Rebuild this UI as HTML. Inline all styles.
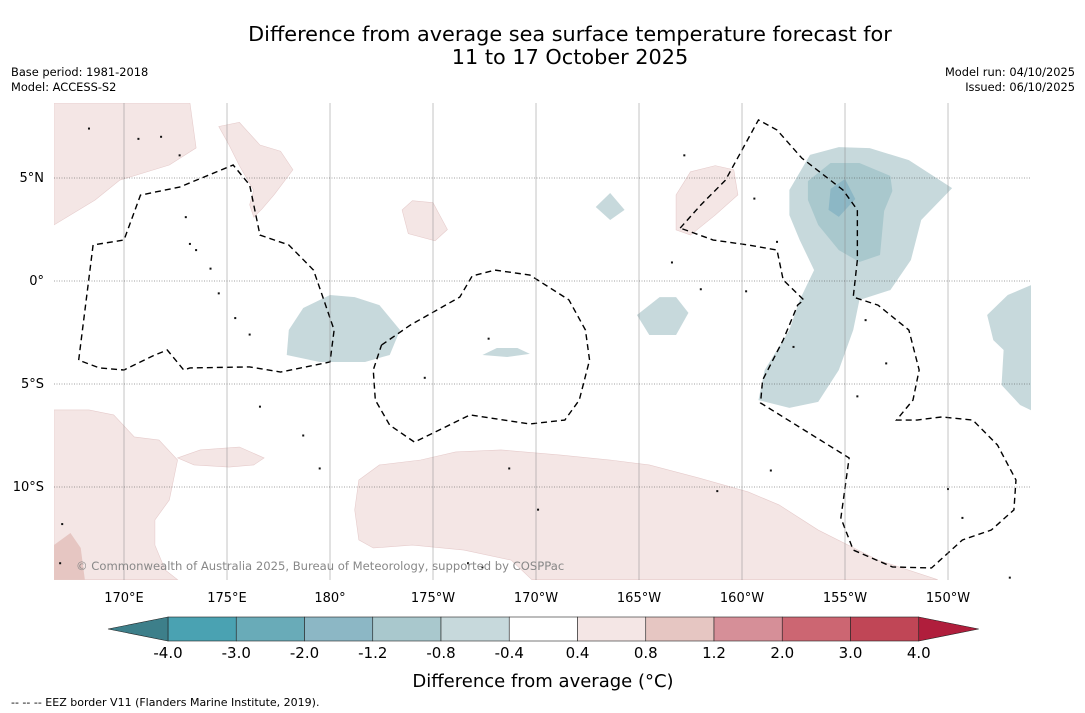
<!DOCTYPE html>
<html><head><meta charset="utf-8">
<style>
body{margin:0;width:1085px;height:713px;background:#fff;overflow:hidden;font-family:"Liberation Sans","DejaVu Sans",sans-serif;}
svg{position:absolute;left:0;top:0}
</style></head>
<body>
<svg id="chart" width="1085" height="713" xmlns="http://www.w3.org/2000/svg" font-family="DejaVu Sans, Liberation Sans, sans-serif">
<text x="570" y="41" font-size="20.8" text-anchor="middle">Difference from average sea surface temperature forecast for</text>
<text x="570" y="64" font-size="20.8" text-anchor="middle">11 to 17 October 2025</text>
<text x="11" y="76" font-size="11.4">Base period: 1981-2018</text>
<text x="11" y="91" font-size="11.4">Model: ACCESS-S2</text>
<text x="1075" y="76" font-size="11.4" text-anchor="end">Model run: 04/10/2025</text>
<text x="1075" y="91" font-size="11.4" text-anchor="end">Issued: 06/10/2025</text>
<clipPath id="mc"><rect x="54" y="103" width="977" height="477"/></clipPath>
<g id="map" clip-path="url(#mc)"></g>
<g id="grid"></g>
<g id="axes"></g>
<text x="76" y="570" font-size="11.6" fill="#888">© Commonwealth of Australia 2025, Bureau of Meteorology, supported by COSPPac</text>
<g id="cbar"></g>
<text x="543" y="687" font-size="18" text-anchor="middle">Difference from average (°C)</text>
<text x="11" y="706" font-size="11">--  --  -- EEZ border V11 (Flanders Marine Institute, 2019).</text>
</svg>
<script>
const NS="http://www.w3.org/2000/svg";
const lonTicks=[170,175,180,185,190,195,200,205,210];
const lonLabels=["170°E","175°E","180°","175°W","170°W","165°W","160°W","155°W","150°W"];
const latTicks=[5,0,-5,-10];
const latLabels=["5°N","0°","5°S","10°S"];
const levels=["-4.0","-3.0","-2.0","-1.2","-0.8","-0.4","0.4","0.8","1.2","2.0","3.0","4.0"];
const levelColors=["#4aa2b2","#69abb8","#8cb7c5","#a9c8cd","#c7d9dc","#ffffff","#f4e6e5","#e6c6c2","#d68f98","#cc6672","#c04656"];
const underColor="#3d7f8a", overColor="#b01e3c";
const regionLevels=[6,6,6,4,6,4,3,2,4,4,4,4,6,6,6,7];
const regionPolys=[
[[166.6,8.64],[173.2,8.64],[173.5,6.46],[172.2,5.63],[169.8,4.9],[168.6,3.93],[166.6,2.72]],
[[174.6,7.5],[175.6,7.7],[176.6,6.6],[177.6,6.3],[178.2,5.4],[177.3,4.2],[176.7,3.5],[176.3,3.1],[176.1,3.7],[176.3,4.4],[175.6,5.6],[175.1,6.6]],
[[183.5,3.45],[184,3.9],[185,3.8],[185.7,2.5],[185.1,1.95],[183.8,2.3]],
[[192.9,3.59],[193.6,4.27],[194.3,3.45],[193.6,2.96]],
[[196.8,4.18],[197.5,5.3],[198.7,5.6],[199.6,5.4],[199.8,4.18],[198.7,3.2],[197.5,2.23],[196.8,2.48]],
[[202.3,4.42],[203.3,6.12],[204.7,6.5],[206.2,6.45],[208.1,5.87],[210.2,4.51],[208.7,2.96],[208.2,1.02],[207.2,-0.44],[205.7,-0.92],[205.4,-2.38],[204.7,-4.32],[203.7,-5.87],[202.3,-6.16],[200.8,-5.78],[201.1,-4.32],[202.3,-2.38],[202.8,-0.92],[203.5,0.53],[202.8,1.99],[202.3,3.2]],
[[203.2,4.85],[204.3,5.73],[205.7,5.73],[207.2,5.1],[207.3,4.37],[206.9,3.4],[206.7,1.26],[205.7,0.92],[204.7,1.5],[203.7,2.72],[203.2,3.93]],
[[204.3,4.47],[205,4.95],[205.5,3.98],[204.7,3.11],[204.2,3.45]],
[[194.9,-1.65],[196,-0.78],[196.8,-0.78],[197.4,-1.55],[196.8,-2.62],[195.5,-2.62]],
[[177.9,-3.59],[178,-2.38],[178.7,-1.31],[180,-0.68],[181.2,-0.78],[182.4,-1.17],[183.4,-2.38],[182.9,-3.59],[181.7,-3.93],[179.5,-3.93]],
[[187.4,-3.59],[188.1,-3.25],[189.1,-3.25],[189.7,-3.54],[188.6,-3.69]],
[[211.9,-1.65],[212.9,-0.68],[214.5,0],[214.5,-6.5],[213.5,-6.02],[212.6,-5.05],[212.7,-3.35],[212.2,-2.87]],
[[166.6,-6.26],[168.3,-6.26],[169.5,-6.5],[170.5,-7.57],[171.7,-7.72],[172.6,-8.69],[172.2,-10.63],[171.5,-11.6],[171.5,-12.82],[172,-14.03],[172.6,-14.5],[166.6,-14.5]],
[[172.6,-8.59],[173.7,-8.2],[175.6,-8.06],[176.8,-8.59],[176.3,-8.93],[175.1,-9.03],[173.4,-8.93]],
[[181.4,-9.66],[182.4,-8.93],[184.4,-8.69],[186.1,-8.3],[188.3,-8.2],[191.2,-8.45],[193.6,-8.69],[195.5,-8.93],[197.9,-9.56],[200.3,-10.24],[201.8,-10.87],[203.7,-12.09],[206.6,-13.55],[209.5,-14.5],[189.8,-14.5],[188.8,-13.55],[186.5,-13.06],[184,-12.82],[182.1,-12.96],[181.4,-12.57],[181.2,-11.11]],
[[166.6,-12.82],[167.4,-12.23],[167.9,-12.96],[168.1,-14.5],[166.6,-14.5]]
];
const eezLines=[
[[167.8,-3.84],[168.5,1.75],[170,1.99],[170.8,4.17],[172.7,4.56],[175.3,5.63],[176.1,4.66],[176.6,2.23],[178,1.75],[179.2,0.53],[179.7,-0.92],[180.2,-2.38],[180,-3.93],[177.6,-4.42],[176.1,-4.17],[173.2,-4.22],[172.9,-4.32],[172.1,-3.35],[171.5,-3.59],[170,-4.32],[168.8,-4.22],[167.8,-3.84]],
[[182.5,-3.11],[183.9,-2.14],[186.3,-0.78],[186.9,0.24],[188,0.53],[189.7,0.29],[191.6,-0.92],[192.4,-2.38],[192.6,-3.84],[192.1,-5.78],[191.4,-6.75],[189.7,-6.94],[186.8,-6.5],[184.1,-7.82],[182.9,-7.0],[182.2,-5.78],[182.1,-4.32],[182.5,-3.11]],
[[197,2.57],[198,3.69],[199.2,4.9],[200.8,7.82],[201.7,7.33],[202.9,5.97],[204.9,4.42],[205.6,3.45],[205.6,1.02],[205.4,-0.78],[206.6,-1.17],[208.1,-2.38],[208.6,-4.32],[208.3,-5.78],[207.5,-6.75],[208.5,-6.75],[209.7,-6.6],[211.2,-6.75],[212.4,-7.96],[213.3,-9.66],[213.2,-11.11],[212.1,-12.09],[210.7,-12.57],[209.2,-13.93],[207.3,-13.88],[205.4,-13.06],[204.8,-11.5],[205.2,-8.59],[200.9,-5.92],[201,-4.81],[202,-2.86],[202.7,-1.17],[203,-0.92],[202,0.05],[201.7,1.5],[200.3,1.75],[198.6,1.99],[197,2.57]]
];
const islands=[[168.3,7.4],[170.7,6.9],[171.8,7.0],[172.7,6.1],[173.0,3.1],[173.2,1.8],[173.5,1.5],[174.2,0.6],[174.6,-0.6],[175.4,-1.8],[176.1,-2.6],[176.6,-6.1],[178.7,-7.5],[179.5,-9.1],[184.6,-4.7],[187.7,-2.8],[188.7,-9.1],[190.1,-11.1],[186.7,-13.7],[187.4,-13.9],[196.6,0.9],[198.0,-0.4],[200.2,-0.5],[202.5,-3.2],[206.0,-1.9],[207.0,-4.0],[201.4,-9.2],[205.6,-5.6],[198.8,-10.2],[210.0,-10.1],[167.0,-11.8],[166.9,-13.7],[210.7,-11.5],[213.0,-14.4],[201.7,1.9],[200.6,4.0],[197.2,6.1]];
const x=lon=>124+(lon-170)*20.6;
const y=lat=>281-lat*20.6;
const map=document.getElementById('map');
function mk(tag,attrs,parent){const e=document.createElementNS(NS,tag);for(const k in attrs)e.setAttribute(k,attrs[k]);parent.appendChild(e);return e;}
regionPolys.forEach((poly,i)=>{
  const p=mk('polygon',{points:poly.map(q=>x(q[0])+','+y(q[1])).join(' '),fill:levelColors[regionLevels[i]],stroke:levelColors[regionLevels[i]]==='#f4e6e5'?'#e6cccc':'none','stroke-width':0.6},map);
  
  
});
islands.forEach(q=>{
  const c=mk('rect',{x:x(q[0])-1,y:y(q[1])-1,width:2,height:2,fill:'#111'},map);
  
  
});
eezLines.forEach(l=>{
  const p=mk('polyline',{points:l.map(q=>x(q[0])+','+y(q[1])).join(' '),fill:'none',stroke:'#000','stroke-width':1.4,'stroke-dasharray':'6,4'},map);
  
  
});
const grid=document.getElementById('grid'),axes=document.getElementById('axes');
lonTicks.forEach((lon,i)=>{
  const l=mk('line',{x1:x(lon),x2:x(lon),y1:103,y2:580,stroke:'#888','stroke-width':0.5},grid);
  
  
  const t=mk('text',{x:x(lon),y:602,'font-size':13,'text-anchor':'middle'},axes);
  t.textContent=lonLabels[i];
  
  
});
latTicks.forEach((lat,i)=>{
  const l=mk('line',{x1:54,x2:1031,y1:y(lat),y2:y(lat),stroke:'#444','stroke-width':0.6,'stroke-dasharray':'1,1.5'},grid);
  
  
  const t=mk('text',{x:44,y:y(lat)+4,'font-size':13,'text-anchor':'end'},axes);
  t.textContent=latLabels[i];
  
  
});
const cb=document.getElementById('cbar');
const cx0=168,cw=68.25,cy=617,ch=24;
levelColors.forEach((c,i)=>{
  const r=mk('rect',{x:cx0+i*cw,y:cy,width:cw,height:ch,fill:c,stroke:'#222','stroke-width':0.6},cb);
  
  
});
const endX=cx0+levelColors.length*cw;
const lt=mk('polygon',{points:`${cx0},${cy} ${cx0-60},${cy+ch/2} ${cx0},${cy+ch}`,fill:underColor,stroke:'#222','stroke-width':0.6},cb);


const rt=mk('polygon',{points:`${endX},${cy} ${endX+60},${cy+ch/2} ${endX},${cy+ch}`,fill:overColor,stroke:'#222','stroke-width':0.6},cb);


levels.forEach((v,i)=>{
  const t=mk('text',{x:cx0+i*cw,y:658,'font-size':15,'text-anchor':'middle'},cb);
  t.textContent=v;
  
  
});
</script>
</body></html>
